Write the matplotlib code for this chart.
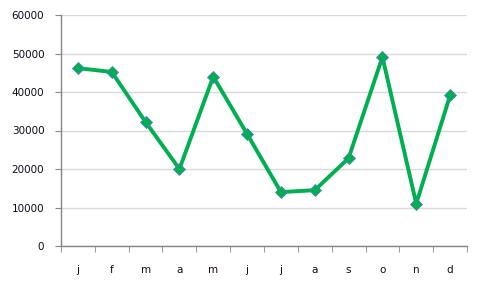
import numpy as np
import matplotlib.pyplot as plt

# monthly values
months = ['j', 'f', 'm', 'a', 'm', 'j', 'j', 'a', 's', 'o', 'n', 'd']
values = [46200, 45200, 32200, 20000, 44000, 29100, 14000, 14500, 22800, 49100, 11000, 39100]
yticks = [0, 10000, 20000, 30000, 40000, 50000, 60000]

axis_col = '#868686'
grid_col = '#d9d9d9'
line_col = '#00b050'

fig = plt.figure(figsize=(4.82, 2.9), dpi=100)
ax = fig.add_axes([61 / 482, 44 / 290, 406 / 482, 231 / 290])

x = np.arange(len(months))
ax.plot(x, values, color=line_col, lw=2.8, marker='D', ms=6,
        mfc=line_col, mec='#4f81bd', mew=0.6, zorder=3)

ax.set_xlim(-0.5, len(months) - 0.5)
ax.set_ylim(0, 60000)
ax.set_yticks(yticks)
ax.set_yticklabels([str(v) for v in yticks])
ax.set_xticks(x)
ax.set_xticklabels(months)
ax.set_xticks(np.arange(-0.5, len(months)), minor=True)

ax.yaxis.grid(True, color=grid_col, lw=1)
ax.set_axisbelow(True)

for side in ['top', 'right']:
    ax.spines[side].set_visible(False)
for side in ['left', 'bottom']:
    ax.spines[side].set_color(axis_col)
    ax.spines[side].set_linewidth(1)

ax.tick_params(axis='x', which='major', length=0, pad=14, labelsize=7.5, labelcolor='#1a0a0a')
ax.tick_params(axis='x', which='minor', length=4, color=axis_col, direction='out')
ax.tick_params(axis='y', length=4, color=axis_col, pad=8, labelsize=7.5, labelcolor='#0a0a1a')

fig.savefig('out.png', dpi=100)
